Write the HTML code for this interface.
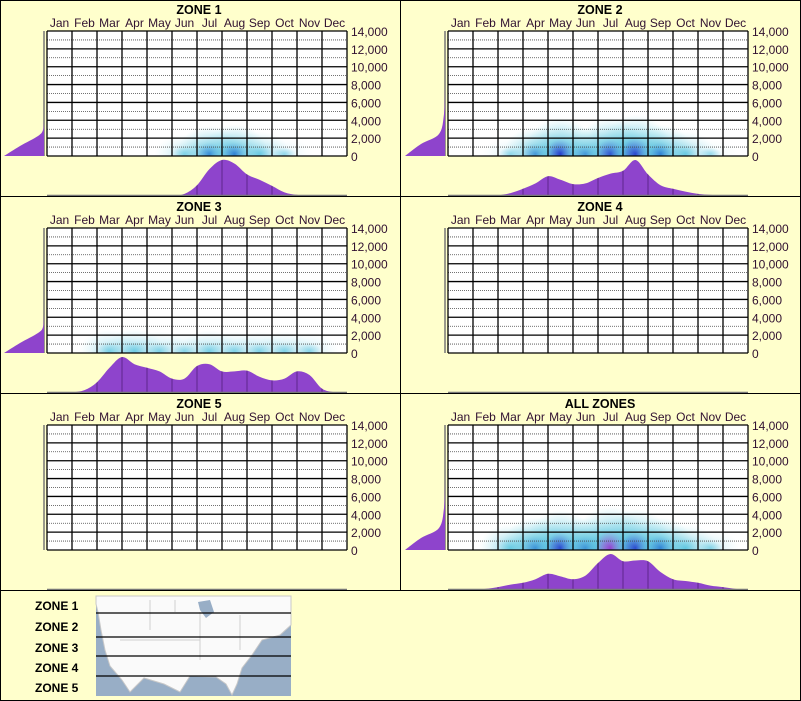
<!DOCTYPE html>
<html><head><meta charset="utf-8"><style>
body{margin:0;background:#ffffcc;}
svg{display:block;font-family:"Liberation Sans",sans-serif;}
</style></head><body>
<svg id="c" width="801" height="701" viewBox="0 0 801 701" xmlns="http://www.w3.org/2000/svg">
<defs id="defs"></defs>
<rect x="0" y="0" width="801" height="701" fill="#ffffcc"/>
</svg>
<script>
const months=["Jan","Feb","Mar","Apr","May","Jun","Jul","Aug","Sep","Oct","Nov","Dec"];
const yTicks=[0,2000,4000,6000,8000,10000,12000,14000];
const zoneTitles=["ZONE 1","ZONE 2","ZONE 3","ZONE 4","ZONE 5","ALL ZONES"];
// half-month density samples (month start, month middle, ..., year end)
const dens1=[0,0,0,0,0,0,0,0,0,0,0.01,0.06,0.3,0.75,1.0,0.9,0.6,0.45,0.28,0.1,0.03,0,0,0,0];
const dens2=[0,0,0,0,0.02,0.08,0.2,0.35,0.55,0.45,0.33,0.35,0.5,0.62,0.7,1.0,0.6,0.3,0.2,0.12,0.06,0.03,0.01,0,0];
const dens3=[0,0,0.02,0.08,0.3,0.7,1.0,0.8,0.7,0.6,0.4,0.4,0.75,0.8,0.6,0.6,0.62,0.45,0.35,0.4,0.6,0.5,0.12,0.02,0];
const dens4=[0,0,0,0,0,0,0,0,0,0,0,0,0,0,0,0,0,0,0,0,0,0,0,0,0];
const dens5=[0,0,0,0,0,0,0,0,0,0,0,0,0,0,0,0,0,0,0,0,0,0,0,0,0];
const densAll=[0,0,0.01,0.03,0.08,0.15,0.2,0.3,0.45,0.38,0.3,0.4,0.75,1.0,0.8,0.82,0.8,0.5,0.3,0.25,0.2,0.12,0.08,0.03,0];
// heat intensity in lowest elevation band per month
const heat1=[0,0,0,0,0,0.2,0.5,0.55,0.3,0.08,0,0];
const heat2=[0,0,0.1,0.45,0.8,0.45,0.8,0.9,0.55,0.3,0.05,0];
const heat3=[0,0,0.25,0.3,0.2,0.15,0.25,0.2,0.2,0.2,0.15,0];
const heat4=[0,0,0,0,0,0,0,0,0,0,0,0];
const heat5=[0,0,0,0,0,0,0,0,0,0,0,0];
const heatAll=[0,0,0.35,0.6,0.85,0.6,1,0.9,0.6,0.35,0.15,0];
// left marginal (elevation) density: height at x=20, 38, 43, 44 (px above baseline)
const left1=[10,20,26,36];const left2=[12,22,42,68];const left3=[10,20,26,38];const left4=[0,0,0,0];const left5=[0,0,0,0];const leftAll=[12,22,42,68];

const densities=[dens1,dens2,dens3,dens4,dens5,densAll];
const heats=[heat1,heat2,heat3,heat4,heat5,heatAll];
const lefts=[left1,left2,left3,left4,left5,leftAll];

const NS="http://www.w3.org/2000/svg";
const svg=document.getElementById('c');
const defs=document.getElementById('defs');
function mk(tag,attrs,parent){const e=document.createElementNS(NS,tag);for(const k in attrs)e.setAttribute(k,attrs[k]);(parent||svg).appendChild(e);return e;}

function heatColor(v){
  if(v<0.4)return [74,190,220];
  if(v<0.7)return [40,120,210];
  if(v<0.95)return [20,30,200];
  return [170,0,200];
}
let gid=0;
function gradFor(v){
  const c=heatColor(v);const id='g'+(gid++);
  const g=mk('radialGradient',{id:id,cx:'50%',cy:'50%',r:'50%'},defs);
  mk('stop',{offset:'0%','stop-color':`rgb(${c})`,'stop-opacity':Math.min(1,0.5+v)},g);
  mk('stop',{offset:'40%','stop-color':'rgb(74,190,220)','stop-opacity':0.6*Math.min(1,v*1.6)},g);
  mk('stop',{offset:'100%','stop-color':'rgb(150,225,235)','stop-opacity':0},g);
  return id;
}
function smooth(pts,base){
  let s=`M${pts[0][0]},${pts[0][1]}`;
  for(let k=0;k<pts.length-1;k++){const p0=pts[Math.max(0,k-1)],p1=pts[k],p2=pts[k+1],p3=pts[Math.min(pts.length-1,k+2)];
    s+=` C${p1[0]+(p2[0]-p0[0])/6},${Math.min(base,p1[1]+(p2[1]-p0[1])/6)} ${p2[0]-(p3[0]-p1[0])/6},${Math.min(base,p2[1]-(p3[1]-p1[1])/6)} ${p2[0]},${p2[1]}`;}
  return s;
}

const GW=300,GH=125;
function panel(i){
  const ox=(i%2)*401, oy=Math.floor(i/2)*197;
  const g=mk('g',{});
  
  
  const gx=ox+47, gy=oy+31;
  const xs=m=>gx+(m+0.5)*GW/12;
  const ys=v=>gy+GH-v/14000*GH;
  const t=mk('text',{x:ox+199,y:oy+14,'text-anchor':'middle','font-size':'12.5','font-weight':'bold',fill:'#000'},g);
  t.textContent=zoneTitles[i];
  
  months.forEach((m,k)=>{const e=mk('text',{x:xs(k),y:oy+27,'text-anchor':'middle','font-size':'12',fill:'#301030'},g);e.textContent=m;
    });
  mk('rect',{x:gx,y:gy,width:GW,height:GH,fill:'#fff'},g);
  const hg=mk('g',{},g);
  const clip='cl'+i;const cp=mk('clipPath',{id:clip},defs);mk('rect',{x:gx,y:gy,width:GW,height:GH},cp);
  hg.setAttribute('clip-path','url(#'+clip+')');
  heats[i].forEach((v,k)=>{if(v<=0)return;const id=gradFor(v);
    const e=mk('ellipse',{cx:xs(k),cy:gy+GH-2,rx:28+v*10,ry:14+v*28,fill:`url(#${id})`},hg);
    });
  for(let k=0;k<7;k++){mk('line',{x1:gx,x2:gx+GW,y1:gy+GH*(k+0.5)/7,y2:gy+GH*(k+0.5)/7,stroke:'#444','stroke-width':0.8,'stroke-dasharray':'1,1'},g);}
  yTicks.forEach(v=>{mk('line',{x1:gx,x2:gx+GW,y1:ys(v),y2:ys(v),stroke:'#000','stroke-width':1.3},g);
    const e=mk('text',{x:ox+351,y:ys(v)+5,'font-size':'12',fill:'#301030'},g);e.textContent=v.toLocaleString('en-US');
    });
  for(let k=0;k<=12;k++)mk('line',{x1:gx+k*GW/12,x2:gx+k*GW/12,y1:gy,y2:gy+GH,stroke:'#000','stroke-width':1.3},g);
  // left marginal
  mk('line',{x1:ox+44,x2:ox+44,y1:gy,y2:gy+GH,stroke:'#777','stroke-width':1.5},g);
  const L=lefts[i], b=gy+GH;
  if(L[3]>0){
    const pts=[[ox+4,b],[ox+20,b-L[0]],[ox+38,b-L[1]],[ox+43,b-L[2]],[ox+44,b-L[3]]];
    const p=mk('path',{d:smooth(pts,b)+` L${ox+44},${b} Z`,fill:'#8e44cc'},g);
    
  }
  // bottom marginal
  const base=oy+196, H=36, d=densities[i];
  const pts=d.map((v,k)=>[gx+k*GW/24,base-v*H]);
  if(d.some(v=>v>0)){
    const s=smooth(pts,base)+' Z';
    const dc='dc'+i;const cp2=mk('clipPath',{id:dc},defs);mk('path',{d:s},cp2);
    const p=mk('path',{d:s,fill:'#8e44cc'},g);
    
    const lg=mk('g',{'clip-path':`url(#${dc})`},g);
    for(let k=1;k<12;k++)mk('line',{x1:gx+k*GW/12,x2:gx+k*GW/12,y1:base-40,y2:base,stroke:'#4a1a70','stroke-width':1,opacity:0.7},lg);
  }
  mk('line',{x1:gx,x2:gx+GW,y1:base-0.5,y2:base-0.5,stroke:'#777','stroke-width':1.5},g);
}
for(let i=0;i<6;i++)panel(i);
mk('rect',{x:0.5,y:0.5,width:800,height:700,fill:'none',stroke:'#000'});
mk('line',{x1:400.5,x2:400.5,y1:0,y2:590,stroke:'#000'});
[196.5,393.5,590.5].forEach(y=>mk('line',{x1:0,x2:801,y1:y,y2:y,stroke:'#000'}));
const lg=mk('g',{});
mk('rect',{x:96,y:596,width:195,height:100,fill:'#98aec6'},lg);
mk('path',{d:'M96,596 L291,596 L291,625 L280,635 L262,640 L252,655 L242,668 L237,684 L232,695 L226,684 L216,677 L190,676 L180,692 L164,684 L144,678 L130,692 L122,680 L110,666 L105,650 L101,630 L98,612 L96,604 Z',fill:'#fafafa',stroke:'#c8c8c8'},lg);
[[150,600,150,630],[200,612,200,660],[240,615,240,650],[120,640,200,640],[175,600,175,612]].forEach(a=>mk('line',{x1:a[0],y1:a[1],x2:a[2],y2:a[3],stroke:'#d0d0d0','stroke-width':1},lg));
mk('path',{d:'M198,602 L210,600 L214,612 L206,618 L200,610 Z',fill:'#98aec6'},lg);
[613,637,656,676].forEach(y=>mk('line',{x1:96,x2:291,y1:y,y2:y,stroke:'#000','stroke-width':1.2},lg));
[605,626,647,667,687].forEach((y,k)=>{const e=mk('text',{x:35,y:y+5,'font-size':'12','font-weight':'bold',fill:'#000'},lg);e.textContent='ZONE '+(k+1);
  });
</script>
</body></html>
